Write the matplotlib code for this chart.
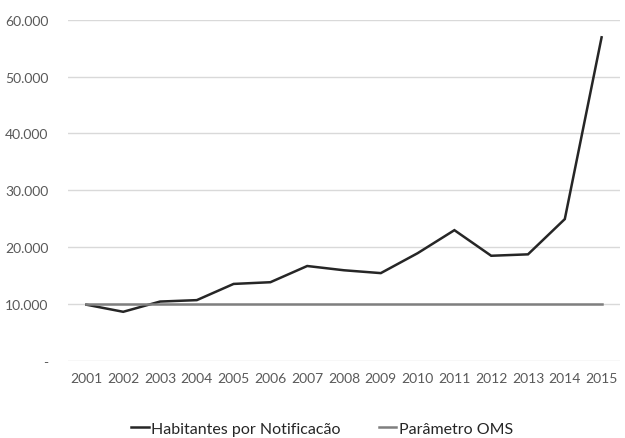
import matplotlib
matplotlib.use("Agg")
import matplotlib.pyplot as plt
from matplotlib.ticker import FuncFormatter

years = [str(y) for y in range(2001, 2016)]
habitantes = [9900, 8650, 10450, 10700, 13550, 13850, 16700, 15950, 15450, 18950, 23000, 18500, 18750, 24950, 56900]
oms = [10000] * 15

plt.rcParams['font.family'] = ['Lato', 'DejaVu Sans']
txt = '#595959'

fig = plt.figure(figsize=(6.25, 4.39), dpi=100)
ax = fig.add_axes([68/625, 1-362/439, (620-68)/625, (362-20.7)/439])

x = list(range(len(years)))
ax.plot(x, habitantes, color='#262626', lw=1.8, label='Habitantes por Notificacão', solid_joinstyle='miter')
ax.plot(x, oms, color='#7f7f7f', lw=1.8, label='Parâmetro OMS')

ax.set_xlim(-0.5, len(years)-0.5)
ax.set_ylim(0, 60000)
ax.set_yticks(range(0, 60001, 10000))
ax.yaxis.set_major_formatter(FuncFormatter(lambda v, p: '-' if v == 0 else f"{int(v):,}".replace(',', '.')))
ax.set_xticks(x)
ax.set_xticklabels(years)
ax.grid(axis='y', color='#d9d9d9', lw=1)
ax.set_axisbelow(True)
for s in ax.spines.values():
    s.set_visible(False)
ax.tick_params(length=0, colors=txt, labelsize=10)
ax.tick_params(axis='y', pad=14)
ax.tick_params(axis='x', pad=8)

leg = fig.legend(loc='lower center', ncol=2, frameon=False, bbox_to_anchor=(0.515, -0.028),
                 handlelength=1.1, handletextpad=0.15, columnspacing=2.4, fontsize=11.5)
for t in leg.get_texts():
    t.set_color('#262626')

fig.savefig('out.png', dpi=100)
